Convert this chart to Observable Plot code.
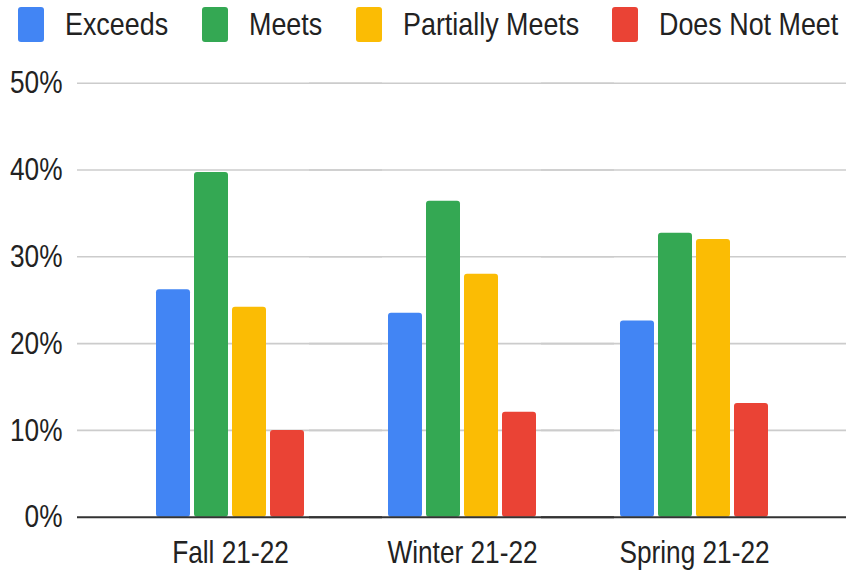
<!DOCTYPE html>
<html>
<head>
<meta charset="utf-8">
<script src="https://cdn.jsdelivr.net/npm/d3@7"></script>
<script src="https://cdn.jsdelivr.net/npm/@observablehq/plot@0.6"></script>
<style>
  html, body { margin: 0; padding: 0; background: #fff; }
  body { width: 846px; height: 571px; overflow: hidden; font-family: "Liberation Sans", Arial, sans-serif; }
  #legend { height: 48px; display: flex; align-items: center; justify-content: space-between; padding-left: 18px; padding-right: 7px; box-sizing: border-box; }
  .item { display: flex; align-items: center; }
  .sw { width: 26px; height: 35px; border-radius: 3px; margin-right: 21px; flex: none; }
  .lab { display: inline-block; font-size: 32px; color: #222; white-space: nowrap; transform: scaleX(0.84); transform-origin: left center; }
  #chart svg { display: block; }
</style>
</head>
<body>
<div id="legend"></div>
<div id="chart"></div>
<script>
const terms = ["Fall 21-22", "Winter 21-22", "Spring 21-22"];
const levels = ["Exceeds", "Meets", "Partially Meets", "Does Not Meet"];
const exceeds = [26.2, 23.5, 22.6];
const meets = [39.7, 36.4, 32.7];
const partiallyMeets = [24.2, 28.0, 32.0];
const doesNotMeet = [10.0, 12.1, 13.1];
const colors = ["#4285F4", "#34A853", "#FBBC04", "#EA4335"];
const yTicks = [0, 10, 20, 30, 40, 50];

const series = [exceeds, meets, partiallyMeets, doesNotMeet];
const data = terms.flatMap((t, i) => levels.map((l, j) => ({term: t, level: l, value: series[j][i]})));

// Legend
const legend = document.getElementById("legend");
const labs = [];
levels.forEach((l, j) => {
  const it = document.createElement("div");
  it.className = "item";
  const sw = document.createElement("div");
  sw.className = "sw";
  sw.style.background = colors[j];
  const lab = document.createElement("span");
  lab.className = "lab";
  lab.textContent = l;
  it.appendChild(sw); it.appendChild(lab);
  legend.appendChild(it);
  labs.push(lab);
});
labs.forEach(lab => {
  const full = lab.offsetWidth;
  const scaled = lab.getBoundingClientRect().width;
  lab.style.marginRight = (scaled - full) + "px";
});

const chart = Plot.plot({
  width: 846,
  height: 523,
  marginLeft: 114,
  marginRight: 36,
  marginTop: 34.7,
  marginBottom: 54.3,
  style: {fontFamily: '"Liberation Sans", Arial, sans-serif', fontSize: "32px", color: "#222", background: "#fff"},
  fx: {domain: terms, padding: 0, axis: "bottom", label: null, tickSize: 0, tickPadding: 23},
  x: {domain: levels, type: "band", paddingInner: 0.11, paddingOuter: 1.083, axis: null},
  y: {domain: [0, 50], ticks: yTicks, tickFormat: d => d + "%", tickSize: 0, tickPadding: 52, label: null},
  color: {domain: levels, range: colors},
  marks: [
    Plot.ruleY(yTicks.filter(d => d > 0), {stroke: "#cccccc", strokeWidth: 1.6, insetLeft: -37, insetRight: -36}),
    Plot.barY(data, {fx: "term", x: "level", y: "value", fill: "level", rx: 3}),
    Plot.ruleY([0], {stroke: "#333333", strokeWidth: 2, insetLeft: -37, insetRight: -36})
  ]
});
document.getElementById("chart").appendChild(chart);
// condense the axis text horizontally around each label's anchor
chart.querySelectorAll("text").forEach(t => {
  const ax = parseFloat(t.getAttribute("x") || 0) || 0;
  const tr = t.getAttribute("transform") || "";
  t.setAttribute("transform", `${tr} translate(${ax},0) scale(0.82,1) translate(${-ax},0)`.trim());
});
</script>
</body>
</html>
